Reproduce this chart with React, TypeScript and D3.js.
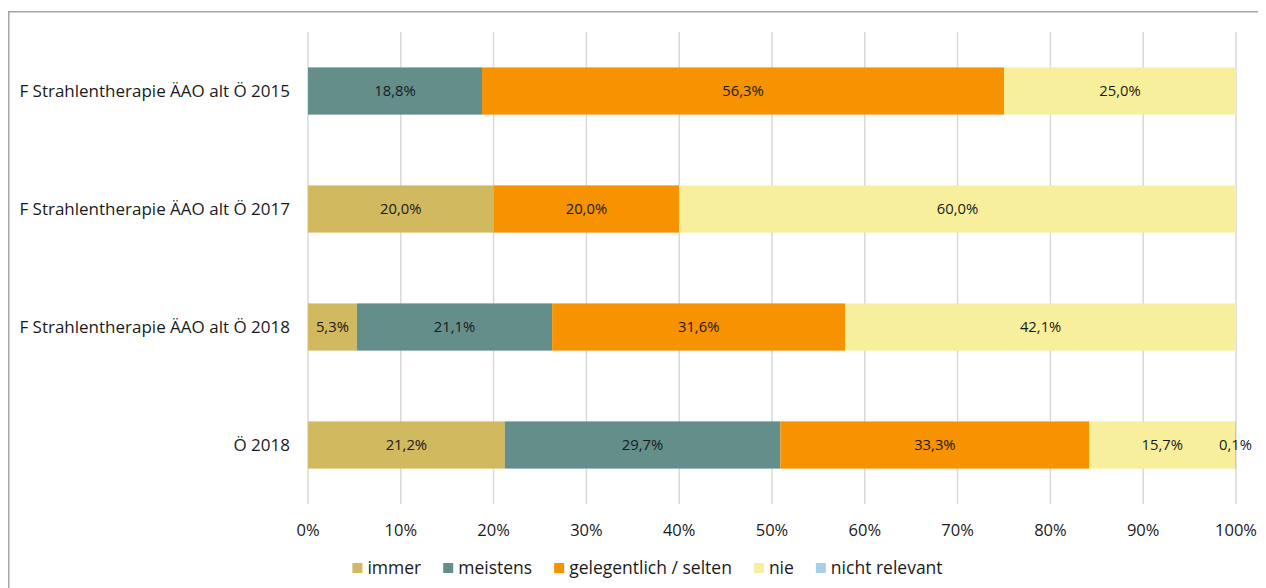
import React, { useEffect, useRef } from "react";
import * as d3 from "d3";

const categories = [
  "F Strahlentherapie ÄAO alt Ö 2015",
  "F Strahlentherapie ÄAO alt Ö 2017",
  "F Strahlentherapie ÄAO alt Ö 2018",
  "Ö 2018",
];
const seriesNames = ["immer", "meistens", "gelegentlich / selten", "nie", "nicht relevant"];
const immer = [0, 20.0, 5.26, 21.2];
const meistens = [18.75, 0, 21.05, 29.7];
const gelegentlich = [56.25, 20.0, 31.58, 33.3];
const nie = [25.0, 60.0, 42.11, 15.7];
const nichtRelevant = [0, 0, 0, 0.1];
const colors = ["#D0B95E", "#638E8A", "#F79200", "#F8EF9D", "#A6CFEA"];
const xTicks = [0, 10, 20, 30, 40, 50, 60, 70, 80, 90, 100];

const W = 1266;
const H = 588;
const FONT = "'Open Sans', Lato, sans-serif";

export default function App() {
  const ref = useRef<SVGSVGElement>(null);

  useEffect(() => {
    const svg = d3.select(ref.current);
    svg.selectAll("*").remove();

    const seriesData = [immer, meistens, gelegentlich, nie, nichtRelevant];
    const rows = categories.map((c, i) => {
      const o: any = { cat: c };
      seriesNames.forEach((s, j) => (o[s] = seriesData[j][i]));
      return o;
    });
    const stacked = d3.stack<any>().keys(seriesNames)(rows);

    const left = 300, right = 1228, top = 24, bottom = 496;
    const x = d3.scaleLinear().domain([0, 100]).range([left, right]);
    const y = d3.scaleBand().domain(categories).range([top, bottom]).paddingInner(0.6).paddingOuter(0.3);

    // outer border
    svg.append("rect").attr("x", 0.75).attr("y", 3.75).attr("width", W + 10).attr("height", H + 10)
      .attr("fill", "none").attr("stroke", "#a6a6a6").attr("stroke-width", 1.5);

    // gridlines
    svg.append("g").selectAll("line").data(xTicks).join("line")
      .attr("x1", (d) => x(d)).attr("x2", (d) => x(d))
      .attr("y1", top).attr("y2", bottom)
      .attr("stroke", "#d9d9d9").attr("stroke-width", 1.5);

    // bars
    const g = svg.append("g");
    stacked.forEach((layer, j) => {
      g.append("g").selectAll("rect").data(layer).join("rect")
        .attr("x", (d) => x(d[0]))
        .attr("width", (d) => Math.max(0, x(d[1]) - x(d[0])))
        .attr("y", (d) => y(d.data.cat)!)
        .attr("height", y.bandwidth())
        .attr("fill", colors[j]);
    });
    // labels
    stacked.forEach((layer) => {
      g.append("g").selectAll("text").data(layer.filter((d) => d[1] - d[0] > 0)).join("text")
        .attr("x", (d) => (x(d[0]) + x(d[1])) / 2)
        .attr("y", (d) => y(d.data.cat)! + y.bandwidth() / 2)
        .attr("dy", "0.35em")
        .attr("text-anchor", "middle")
        .attr("font-family", FONT).attr("font-size", 14.8).attr("fill", "#1a1a1a")
        .text((d) => (d[1] - d[0]).toFixed(1).replace(".", ",") + "%");
    });

    // category labels
    svg.append("g").selectAll("text").data(categories).join("text")
      .attr("x", left - 18)
      .attr("y", (d) => y(d)! + y.bandwidth() / 2)
      .attr("dy", "0.35em").attr("text-anchor", "end")
      .attr("font-family", FONT).attr("font-size", 17).attr("fill", "#1a1a1a")
      .text((d) => d);

    // x tick labels
    svg.append("g").selectAll("text").data(xTicks).join("text")
      .attr("x", (d) => x(d)).attr("y", 522).attr("dy", "0.35em")
      .attr("text-anchor", "middle")
      .attr("font-family", FONT).attr("font-size", 16.5).attr("fill", "#1a1a1a")
      .text((d) => d + "%");

    // legend
    const lg = svg.append("g");
    let cx = 0;
    const gap = 22;
    seriesNames.forEach((s, i) => {
      const item = lg.append("g").attr("transform", `translate(${cx},0)`);
      item.append("rect").attr("x", 0).attr("y", -5).attr("width", 10).attr("height", 10).attr("fill", colors[i]);
      const t = item.append("text").attr("x", 15).attr("y", 0).attr("dy", "0.35em")
        .attr("font-family", FONT).attr("font-size", 17.5).attr("fill", "#1a1a1a").text(s);
      const w = (t.node() as SVGTextElement).getComputedTextLength();
      cx += 15 + w + gap;
    });
    const total = cx - gap;
    lg.attr("transform", `translate(${(354 + 941) / 2 - 8 - total / 2},560)`);
  }, []);

  return <svg ref={ref} width={W - 8} height={H - 8} style={{ display: "block" }} />;
}
